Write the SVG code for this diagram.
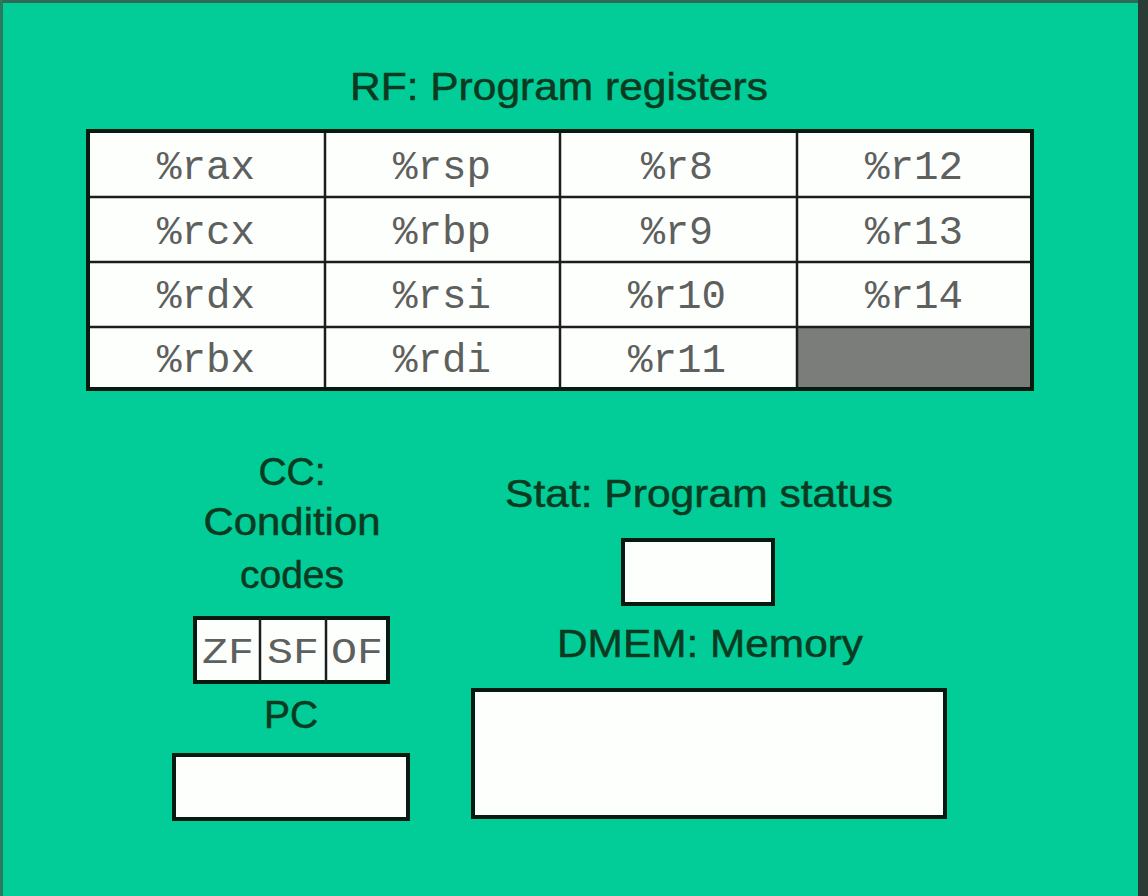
<svg xmlns="http://www.w3.org/2000/svg" width="1148" height="896" viewBox="0 0 1148 896">
<style>
.lbl{font-family:"Liberation Sans",Arial,sans-serif;font-size:39px;fill:#0b3a1f;stroke:#0b3a1f;stroke-width:0.5;text-anchor:middle}
.reg{font-family:"Liberation Mono","Courier New",monospace;font-size:40px;fill:#5e605e;text-anchor:middle}
.flag{font-family:"Liberation Mono","Courier New",monospace;font-size:36px;fill:#5e605e;text-anchor:middle}
.box{fill:#fdfffd;stroke:#061a10;stroke-width:4}
.grid{stroke:#1a1f1c;stroke-width:2.5;fill:none}
</style>
<rect x="0" y="0" width="1148" height="896" fill="#02cc98"/>
<rect x="0" y="0" width="1148" height="3" fill="#2f6a55"/>
<rect x="0" y="0" width="3" height="896" fill="#2a7a5e"/>
<rect x="1138" y="0" width="10" height="896" fill="#2b3b36"/>

<g id="rf">
<text class="lbl" x="559" y="100" textLength="418" lengthAdjust="spacingAndGlyphs">RF: Program registers</text>
<rect class="box" x="88" y="131" width="944" height="258"/>
<rect x="797" y="327" width="235" height="62" fill="#7a7d7a"/>
<g class="grid">
<line x1="325" y1="131" x2="325" y2="389"/>
<line x1="560" y1="131" x2="560" y2="389"/>
<line x1="797" y1="131" x2="797" y2="389"/>
<line x1="88" y1="197" x2="1032" y2="197"/>
<line x1="88" y1="262" x2="1032" y2="262"/>
<line x1="88" y1="327" x2="1032" y2="327"/>
</g>
<rect x="88" y="131" width="944" height="258" fill="none" stroke="#061a10" stroke-width="4"/>
<g>
<text class="reg" x="206" y="179" textLength="98" lengthAdjust="spacingAndGlyphs">%rax</text>
<text class="reg" x="442" y="179" textLength="98" lengthAdjust="spacingAndGlyphs">%rsp</text>
<text class="reg" x="677" y="179" textLength="72" lengthAdjust="spacingAndGlyphs">%r8</text>
<text class="reg" x="914" y="179" textLength="98" lengthAdjust="spacingAndGlyphs">%r12</text>
<text class="reg" x="206" y="244" textLength="98" lengthAdjust="spacingAndGlyphs">%rcx</text>
<text class="reg" x="442" y="244" textLength="98" lengthAdjust="spacingAndGlyphs">%rbp</text>
<text class="reg" x="677" y="244" textLength="72" lengthAdjust="spacingAndGlyphs">%r9</text>
<text class="reg" x="914" y="244" textLength="98" lengthAdjust="spacingAndGlyphs">%r13</text>
<text class="reg" x="206" y="308" textLength="98" lengthAdjust="spacingAndGlyphs">%rdx</text>
<text class="reg" x="442" y="308" textLength="98" lengthAdjust="spacingAndGlyphs">%rsi</text>
<text class="reg" x="677" y="308" textLength="98" lengthAdjust="spacingAndGlyphs">%r10</text>
<text class="reg" x="914" y="308" textLength="98" lengthAdjust="spacingAndGlyphs">%r14</text>
<text class="reg" x="206" y="372" textLength="98" lengthAdjust="spacingAndGlyphs">%rbx</text>
<text class="reg" x="442" y="372" textLength="98" lengthAdjust="spacingAndGlyphs">%rdi</text>
<text class="reg" x="677" y="372" textLength="98" lengthAdjust="spacingAndGlyphs">%r11</text>
</g>
</g>

<g id="cc">
<text class="lbl" x="292" y="485">CC:</text>
<text class="lbl" x="292" y="535" textLength="177" lengthAdjust="spacingAndGlyphs">Condition</text>
<text class="lbl" x="292" y="588">codes</text>
<rect class="box" x="195" y="618" width="193" height="64"/>
<line class="grid" x1="260" y1="618" x2="260" y2="682"/>
<line class="grid" x1="326" y1="618" x2="326" y2="682"/>
<text class="flag" x="228" y="663" textLength="52" lengthAdjust="spacingAndGlyphs">ZF</text>
<text class="flag" x="293" y="663" textLength="52" lengthAdjust="spacingAndGlyphs">SF</text>
<text class="flag" x="357" y="663" textLength="52" lengthAdjust="spacingAndGlyphs">OF</text>
</g>

<g id="pc">
<text class="lbl" x="291" y="728">PC</text>
<rect class="box" x="174" y="755" width="234" height="64"/>
</g>

<g id="stat">
<text class="lbl" x="699" y="507" textLength="388" lengthAdjust="spacingAndGlyphs">Stat: Program status</text>
<rect class="box" x="623" y="540" width="150" height="64"/>
</g>

<g id="dmem">
<text class="lbl" x="710" y="657" textLength="306" lengthAdjust="spacingAndGlyphs">DMEM: Memory</text>
<rect class="box" x="473" y="690" width="472" height="127"/>
</g>

<g id="connectors"></g>
</svg>
